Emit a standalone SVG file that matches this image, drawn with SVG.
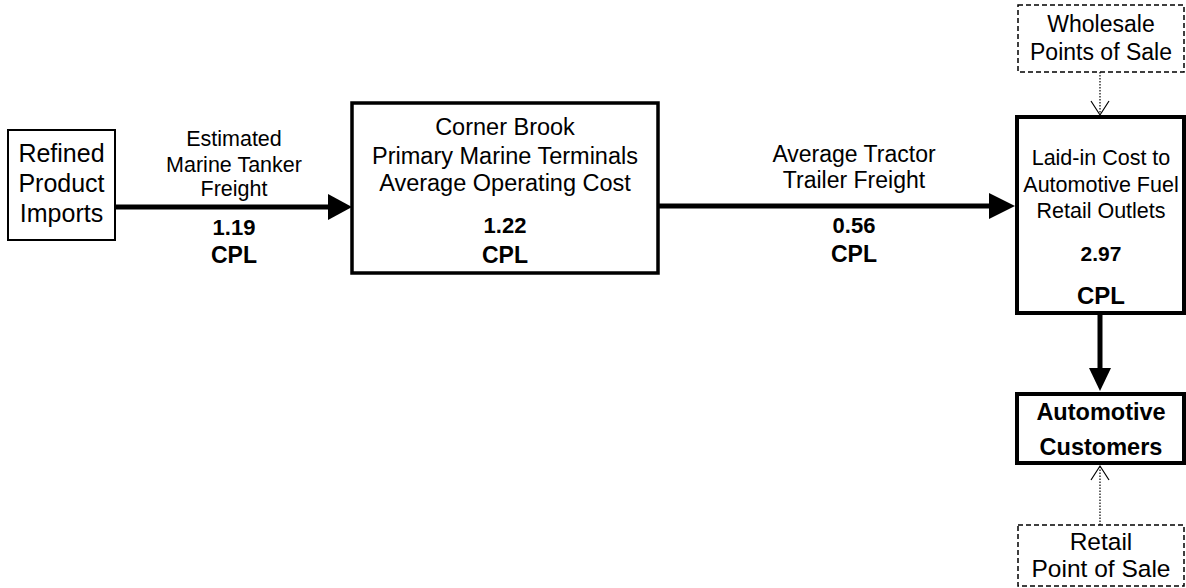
<svg xmlns="http://www.w3.org/2000/svg" width="1186" height="588" viewBox="0 0 1186 588">
<defs>
<style>
text{font-family:"Liberation Sans",Arial,sans-serif;fill:#000;text-anchor:middle}
.b{font-weight:bold}
.box{fill:#fff;stroke:#000}
.dash{fill:#fff;stroke:#000;stroke-width:1.5;stroke-dasharray:5,3}
.flow{stroke:#000;stroke-width:5;fill:none}
.dot{stroke:#000;stroke-width:1.2;stroke-dasharray:1.5,1.5;fill:none}
.open{stroke:#000;stroke-width:1.2;fill:none}
</style>
</defs>
<rect width="1186" height="588" fill="#fff"/>
<g id="connectors">
<line class="flow" x1="115" y1="207" x2="330" y2="207"/>
<polygon points="328,194 352,207 328,220" fill="#000"/>
<line class="flow" x1="658" y1="206" x2="992" y2="206"/>
<polygon points="989,193 1015,206 989,219" fill="#000"/>
<line class="flow" x1="1100" y1="313" x2="1100" y2="370"/>
<polygon points="1089,368 1111,368 1100,391" fill="#000"/>
<line class="dot" x1="1100" y1="72" x2="1100" y2="114"/>
<polyline class="open" points="1091,101 1100,115 1109,101"/>
<line class="dot" x1="1100" y1="525" x2="1100" y2="466"/>
<polyline class="open" points="1091,480 1100,466 1109,480"/>
</g>
<g id="label-marine">
<text x="234" y="146" font-size="21.5">Estimated</text>
<text x="234" y="172" font-size="21.5">Marine Tanker</text>
<text x="234" y="196" font-size="21.5">Freight</text>
<text class="b" x="234" y="235" font-size="22">1.19</text>
<text class="b" x="234" y="263" font-size="23">CPL</text>
</g>
<g id="label-tractor">
<text x="854" y="162" font-size="23">Average Tractor</text>
<text x="854" y="188" font-size="23">Trailer Freight</text>
<text class="b" x="854" y="233" font-size="22">0.56</text>
<text class="b" x="854" y="262" font-size="23">CPL</text>
</g>
<g id="node-imports">
<rect class="box" x="8" y="130" width="107" height="110" stroke-width="2"/>
<text x="61.5" y="162" font-size="25">Refined</text>
<text x="61.5" y="192" font-size="25">Product</text>
<text x="61.5" y="222" font-size="25">Imports</text>
</g>
<g id="node-terminals">
<rect class="box" x="352" y="103" width="306" height="170" stroke-width="3.5"/>
<text x="505" y="135" font-size="23.5">Corner Brook</text>
<text x="505" y="164" font-size="23.5">Primary Marine Terminals</text>
<text x="505" y="191" font-size="23.5">Average Operating Cost</text>
<text class="b" x="505" y="233" font-size="22">1.22</text>
<text class="b" x="505" y="263" font-size="23">CPL</text>
</g>
<g id="node-wholesale">
<rect class="dash" x="1018" y="5" width="166" height="67"/>
<text x="1101" y="32" font-size="23">Wholesale</text>
<text x="1101" y="60" font-size="23">Points of Sale</text>
</g>
<g id="node-laidin">
<rect class="box" x="1017" y="117" width="167" height="196" stroke-width="4"/>
<text x="1101" y="165" font-size="21.5">Laid-in Cost to</text>
<text x="1101" y="192" font-size="21.5">Automotive Fuel</text>
<text x="1101" y="218" font-size="21.5">Retail Outlets</text>
<text class="b" x="1101" y="261" font-size="21">2.97</text>
<text class="b" x="1101" y="304" font-size="24">CPL</text>
</g>
<g id="node-customers">
<rect class="box" x="1017" y="394" width="167" height="69" stroke-width="4"/>
<text class="b" x="1101" y="420" font-size="23.5">Automotive</text>
<text class="b" x="1101" y="455" font-size="23.5">Customers</text>
</g>
<g id="node-retail">
<rect class="dash" x="1018" y="525" width="166" height="61"/>
<text x="1101" y="550" font-size="24.5">Retail</text>
<text x="1101" y="577" font-size="24.5">Point of Sale</text>
</g>
</svg>
